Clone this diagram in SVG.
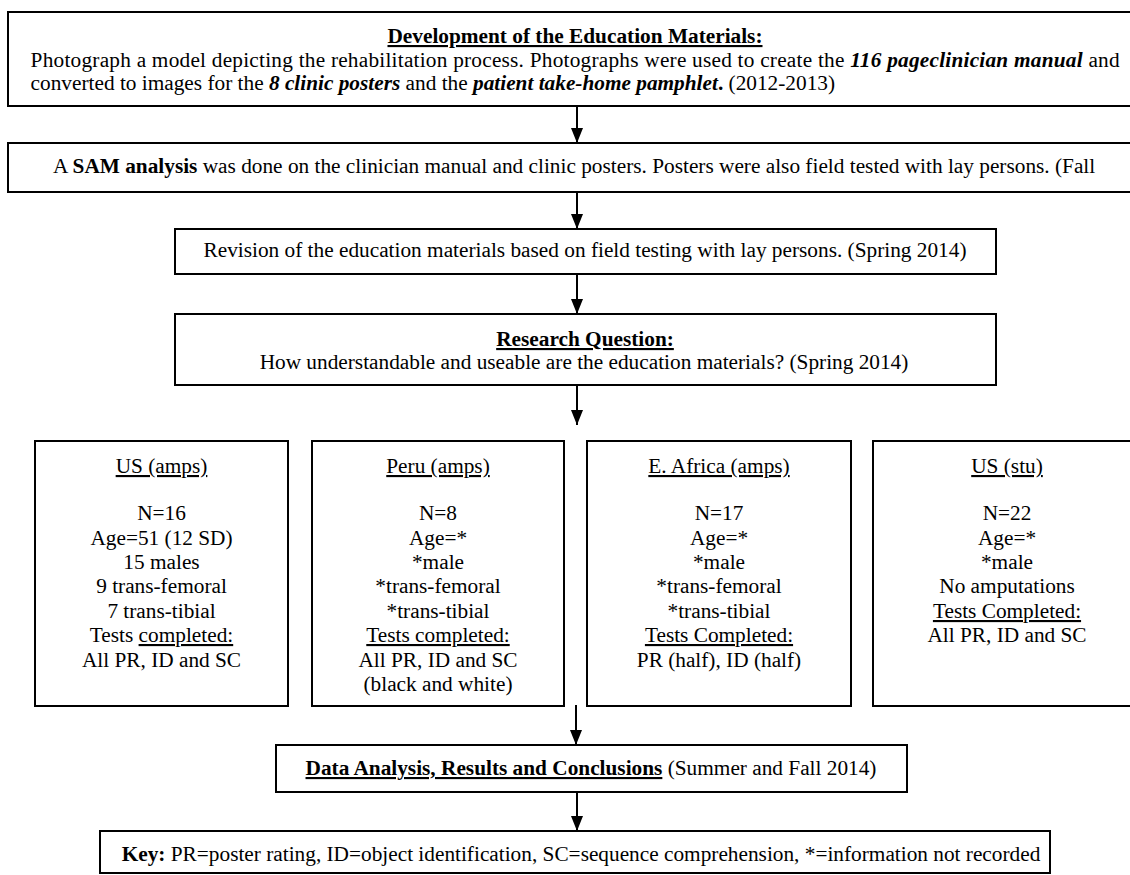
<svg xmlns="http://www.w3.org/2000/svg" width="1130" height="875" viewBox="0 0 1130 875">
<defs>
<style>
text{font-family:"Liberation Serif","Times New Roman",serif;font-size:21.3px;fill:#000}
.c{text-anchor:middle}
.b{font-weight:bold}
.bi{font-weight:bold;font-style:italic}
.u{text-decoration:underline}
.box{fill:#fff;stroke:#000;stroke-width:2}
.con{stroke:#000;stroke-width:2;fill:none;marker-end:url(#ah)}
</style>
<marker id="ah" markerUnits="userSpaceOnUse" viewBox="0 0 15 12" refX="15" refY="6" markerWidth="15" markerHeight="12" orient="auto">
<path d="M0,0 L15,6 L0,12 z" fill="#000"/>
</marker>
</defs>
<rect width="1130" height="875" fill="#fff"/>

<g id="connectors">
<line class="con" x1="577" y1="106" x2="577" y2="143"/>
<line class="con" x1="577" y1="192" x2="577" y2="229"/>
<line class="con" x1="577" y1="274" x2="577" y2="314"/>
<line class="con" x1="577" y1="385" x2="577" y2="425"/>
<line class="con" x1="576" y1="705" x2="576" y2="745"/>
<line class="con" x1="577" y1="792" x2="577" y2="831"/>
</g>

<g id="development">
<rect class="box" x="8" y="12" width="1134" height="94" stroke-width="2.5"/>
<text class="c b u" x="575" y="43">Development of the Education Materials:</text>
<text x="30.6" y="67" textLength="1089" lengthAdjust="spacing">Photograph a model depicting the rehabilitation process. Photographs were used to create the <tspan class="bi">116 pageclinician manual</tspan> and</text>
<text x="30.6" y="90">converted to images for the <tspan class="bi">8 clinic posters</tspan> and the <tspan class="bi">patient take-home pamphlet</tspan><tspan class="b">.</tspan> (2012-2013)</text>
</g>

<g id="sam">
<rect class="box" x="8" y="143" width="1134" height="49" stroke-width="2.5"/>
<text x="53" y="173">A <tspan class="b">SAM analysis</tspan> was done on the clinician manual and clinic posters. Posters were also field tested with lay persons. (Fall</text>
</g>

<g id="revision">
<rect class="box" x="175" y="229" width="821" height="45"/>
<text class="c" x="585" y="257">Revision of the education materials based on field testing with lay persons. (Spring 2014)</text>
</g>

<g id="research">
<rect class="box" x="175" y="314" width="821" height="71"/>
<text class="c b u" x="585" y="346">Research Question:</text>
<text class="c" x="584" y="369">How understandable and useable are the education materials? (Spring 2014)</text>
</g>

<g id="us-amps">
<rect class="box" x="35" y="441" width="253" height="265"/>
<text class="c u" x="161.5" y="473">US (amps)</text>
<text class="c" x="161.5" y="520">N=16</text>
<text class="c" x="161.5" y="545">Age=51 (12 SD)</text>
<text class="c" x="161.5" y="569">15 males</text>
<text class="c" x="161.5" y="593">9 trans-femoral</text>
<text class="c" x="161.5" y="618">7 trans-tibial</text>
<text class="c" x="161.5" y="642">Tests <tspan class="u">completed:</tspan></text>
<text class="c" x="161.5" y="667">All PR, ID and SC</text>
</g>

<g id="peru-amps">
<rect class="box" x="312" y="441" width="252" height="265"/>
<text class="c u" x="438" y="473">Peru (amps)</text>
<text class="c" x="438" y="520">N=8</text>
<text class="c" x="438" y="545">Age=*</text>
<text class="c" x="438" y="569">*male</text>
<text class="c" x="438" y="593">*trans-femoral</text>
<text class="c" x="438" y="618">*trans-tibial</text>
<text class="c u" x="438" y="642">Tests completed:</text>
<text class="c" x="438" y="667">All PR, ID and SC</text>
<text class="c" x="438" y="691">(black and white)</text>
</g>

<g id="eafrica-amps">
<rect class="box" x="587" y="441" width="264" height="265"/>
<text class="c u" x="719" y="473">E. Africa (amps)</text>
<text class="c" x="719" y="520">N=17</text>
<text class="c" x="719" y="545">Age=*</text>
<text class="c" x="719" y="569">*male</text>
<text class="c" x="719" y="593">*trans-femoral</text>
<text class="c" x="719" y="618">*trans-tibial</text>
<text class="c u" x="719" y="642">Tests Completed:</text>
<text class="c" x="719" y="667">PR (half), ID (half)</text>
</g>

<g id="us-stu">
<rect class="box" x="873" y="441" width="268" height="265"/>
<text class="c u" x="1007" y="473">US (stu)</text>
<text class="c" x="1007" y="520">N=22</text>
<text class="c" x="1007" y="545">Age=*</text>
<text class="c" x="1007" y="569">*male</text>
<text class="c" x="1007" y="593">No amputations</text>
<text class="c u" x="1007" y="618">Tests Completed:</text>
<text class="c" x="1007" y="642">All PR, ID and SC</text>
</g>

<g id="data-analysis">
<rect class="box" x="276" y="745" width="631" height="47"/>
<text class="c" x="591" y="775"><tspan class="b u">Data Analysis, Results and Conclusions</tspan> (Summer and Fall 2014)</text>
</g>

<g id="key">
<rect class="box" x="100" y="831" width="950" height="42"/>
<text class="c" x="581" y="861"><tspan class="b">Key:</tspan> PR=poster rating, ID=object identification, SC=sequence comprehension, *=information not recorded</text>
</g>
</svg>
